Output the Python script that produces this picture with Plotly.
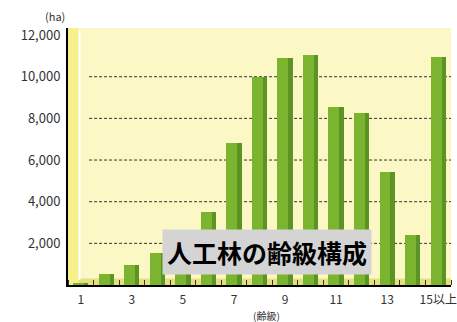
import plotly.graph_objects as go

# ---- data ----
age_classes = list(range(1, 16))
tick_positions = [1, 3, 5, 7, 9, 11, 13, 15]
tick_labels = ["1", "3", "5", "7", "9", "11", "13", "15以上"]
area_ha = [120, 550, 950, 1550, 2300, 3500, 6800, 10000, 10900, 11050, 8550, 8250, 5450, 2400, 10950]
y_tick_values = [2000, 4000, 6000, 8000, 10000, 12000]
grid_values = [2000, 4000, 6000, 8000, 10000]

FONT = "Noto Sans CJK JP"

fig = go.Figure()
# front face
fig.add_trace(go.Bar(x=age_classes, y=area_ha, width=0.6, offset=-0.3,
                     marker=dict(color="#7bb42f", line=dict(width=0)),
                     hoverinfo="skip", showlegend=False))
# darker side face
fig.add_trace(go.Bar(x=age_classes, y=area_ha, width=0.17, offset=0.13,
                     marker=dict(color="#5b9324", line=dict(width=0)),
                     hoverinfo="skip", showlegend=False))

shapes = []
# floor strip
shapes.append(dict(type="rect", xref="x domain", yref="y domain", x0=0, x1=1, y0=0, y1=0.025,
                   fillcolor="#e6df80", line=dict(width=0), layer="below"))
# left wall strip
shapes.append(dict(type="rect", xref="x domain", yref="y domain", x0=0, x1=0.028, y0=0, y1=1,
                   fillcolor="#f7f08c", line=dict(width=0), layer="below"))
shapes.append(dict(type="line", xref="x domain", yref="y domain", x0=0.03, x1=0.03, y0=0.02, y1=0.99,
                   line=dict(color="#ffffff", width=2), layer="below"))
# dotted grid lines
for g in grid_values:
    shapes.append(dict(type="line", xref="x domain", yref="y", x0=0.055, x1=1, y0=g, y1=g,
                       line=dict(color="#333333", width=1, dash="3px,2px"), layer="below"))

fig.update_layout(
    width=457, height=322,
    margin=dict(l=68, r=0, t=28, b=37),
    paper_bgcolor="#ffffff",
    plot_bgcolor="#fcf8c6",
    barmode="overlay",
    bargap=0,
    shapes=shapes,
    font=dict(family=FONT, color="#333333", size=12),
    xaxis=dict(range=[0.5, 15.5], tickmode="array", tickvals=tick_positions, ticktext=tick_labels,
               showline=True, linecolor="#000000", linewidth=2, showgrid=False, zeroline=False,
               ticks="", tickfont=dict(size=12, color="#333333"), ticklabeloverflow="allow",
               ticklabelstandoff=3,
               minor=dict(tick0=0.5, dtick=1, ticks="inside", ticklen=5, tickcolor="#333333",
                          tickwidth=1, showgrid=False)),
    yaxis=dict(range=[0, 12340], tickmode="array", tickvals=y_tick_values, tickformat=",d",
               showline=True, linecolor="#000000", linewidth=2, showgrid=False, zeroline=False,
               ticks="", tickfont=dict(size=13, color="#333333"), ticklabelstandoff=3),
    annotations=[
        dict(text="(ha)", xref="paper", yref="paper", x=-0.035, y=1.045, showarrow=False,
             xanchor="center", yanchor="middle", font=dict(size=11, color="#333333")),
        dict(text="(齢級)", xref="paper", yref="paper", x=0.519, y=-0.12, showarrow=False,
             xanchor="center", yanchor="middle", font=dict(size=10, color="#333333")),
        dict(text="<b>人工林の齢級構成</b>", xref="paper", yref="paper", x=0.52, y=0.128,
             showarrow=False, xanchor="center", yanchor="middle", bgcolor="#d4d4d4",
             borderpad=4, font=dict(size=25, color="#000000", family=FONT)),
    ],
)

fig.write_html("out.html")
